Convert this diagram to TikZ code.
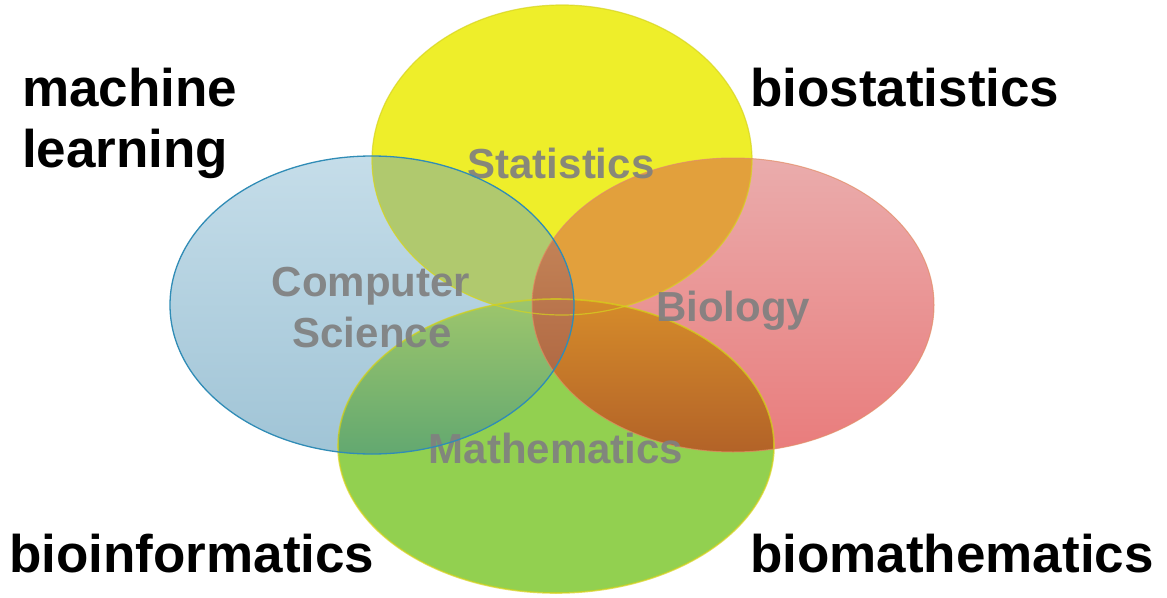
\documentclass[tikz,border=0pt]{standalone}
\usepackage{fontspec}
\setmainfont{Liberation Sans}
\definecolor{csTop}{RGB}{197,221,233}
\definecolor{csBot}{RGB}{160,196,214}
\definecolor{csLine}{RGB}{48,140,182}
\definecolor{statY}{RGB}{238,238,42}
\definecolor{statLine}{RGB}{214,212,30}
\definecolor{bioTop}{RGB}{234,172,172}
\definecolor{bioBot}{RGB}{233,124,124}
\definecolor{bioLine}{RGB}{226,140,100}
\definecolor{mathG}{RGB}{146,208,80}
\definecolor{mathLine}{RGB}{214,210,24}
\definecolor{ovYB}{RGB}{176,201,110}
\definecolor{ovYR}{RGB}{226,160,60}
\definecolor{ovBGtop}{RGB}{158,198,108}
\definecolor{ovBGbot}{RGB}{98,168,112}
\definecolor{ovRGtop}{RGB}{214,140,42}
\definecolor{ovRGbot}{RGB}{178,98,40}
\definecolor{ovBRtop}{RGB}{196,132,88}
\definecolor{ovBRbot}{RGB}{176,104,66}
\definecolor{labelgray}{RGB}{128,128,128}
% the four discs
\def\ellY{(562,160) ellipse [x radius=190pt, y radius=155pt]}
\def\ellB{(372,305) ellipse [x radius=202pt, y radius=149pt]}
\def\ellR{(733,305) ellipse [x radius=201pt, y radius=147pt]}
\def\ellG{(556,446) ellipse [x radius=218pt, y radius=147pt]}
\tikzset{
  outer/.style={font=\fontsize{53}{62}\selectfont\bfseries, text=black, inner sep=0pt, anchor=base west},
  field/.style={font=\fontsize{42}{50}\selectfont\bfseries, text=labelgray, inner sep=0pt, anchor=base, opacity=0.92},
}
\begin{document}
\begin{tikzpicture}[x=1pt,y=-1pt]
\useasboundingbox (0,0) rectangle (1167,597);
\fill[white] (0,0) rectangle (1167,597);

% base discs
\shade[top color=csTop, bottom color=csBot] \ellB;
\fill[statY] \ellY;
\shade[top color=bioTop, bottom color=bioBot] \ellR;
\fill[mathG] \ellG;

% overlaps with the statistics disc
\begin{scope}
  \clip \ellY;
  \fill[ovYB] \ellB;
  \fill[ovYR] \ellR;
\end{scope}
% computer science and mathematics
\begin{scope}
  \clip \ellB; \clip \ellG;
  \shade[top color=ovBGtop, bottom color=ovBGbot] (330,298) rectangle (580,456);
\end{scope}
% biology and mathematics
\begin{scope}
  \clip \ellR; \clip \ellG;
  \shade[top color=ovRGtop, bottom color=ovRGbot] (528,298) rectangle (780,454);
\end{scope}
% central lens
\begin{scope}
  \clip \ellB; \clip \ellR;
  \shade[top color=ovBRtop, bottom color=ovBRbot] (528,230) rectangle (580,380);
\end{scope}

% outlines
\draw[statLine, line width=1.2pt, opacity=0.7] \ellY;
\draw[mathLine, line width=1.6pt, opacity=0.7] \ellG;
\draw[bioLine, line width=1pt, opacity=0.7] \ellR;

% field names
\node[field] (stat) at (561,178) {Statistics};
\node[field] (comp) at (371,296) {Computer};
\node[field] (sci)  at (372,347) {Science};
\node[field] (bio)  at (733,321) {Biology};
\node[field] (math) at (556,463) {Mathematics};

% computer science outline on top
\draw[csLine, line width=1.3pt] \ellB;

% combined disciplines
\node[outer] (ml1) at (22,106) {machine};
\node[outer] (ml2) at (22,167) {learning};
\node[outer] (bs) at (750,106) {biostatistics};
\node[outer] (bi) at (9,572) {bioinformatics};
\node[outer] (bm) at (750,572) {biomathematics};
\end{tikzpicture}
\end{document}
